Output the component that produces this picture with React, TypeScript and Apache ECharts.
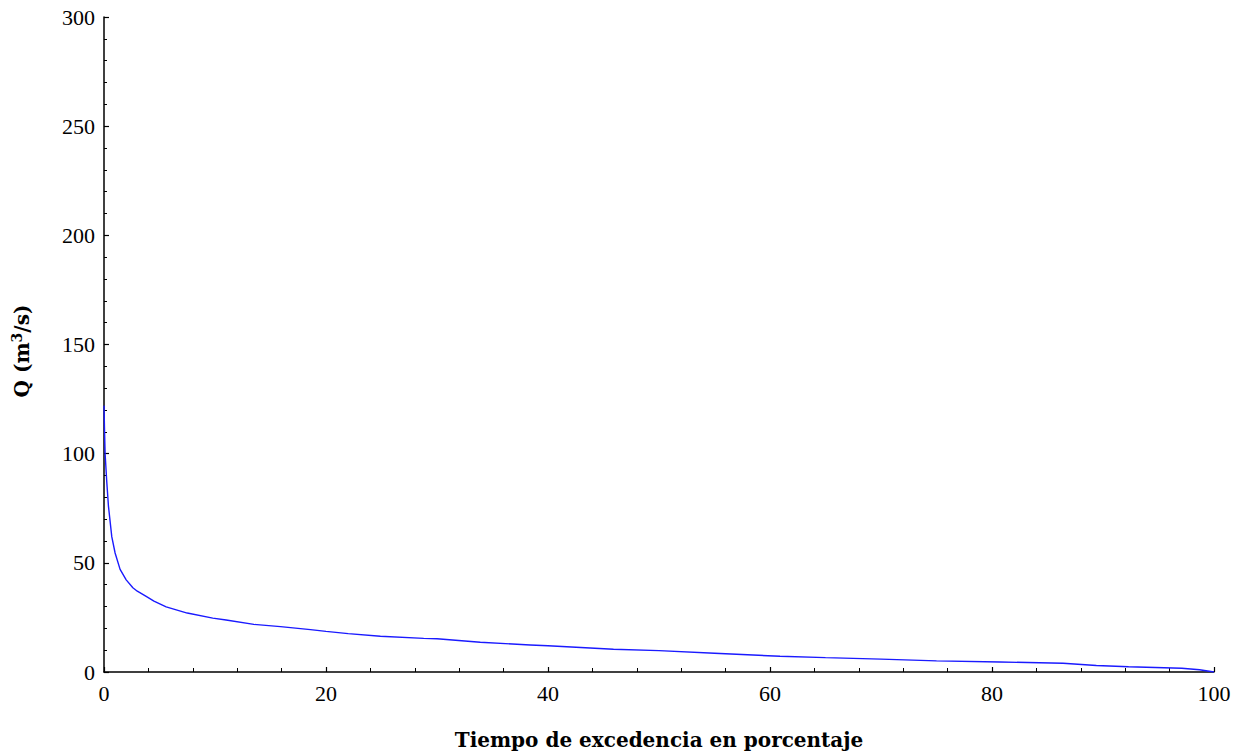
import React, { useEffect, useRef } from "react";
import * as echarts from "echarts";

const xValues: number[] = [0, 0.05, 0.1, 0.25, 0.4, 0.7, 1.0, 1.45, 2.0, 2.6, 3.0, 3.8, 4.5, 5.6, 7.5, 9.8, 11, 13.5, 15.9, 18.6, 20, 22, 24.9, 28.8, 30, 33.9, 38.4, 40, 45.9, 50, 55, 60.9, 65, 70, 75, 80.7, 86.4, 89.4, 92.3, 97.1, 98.7, 100];
const qValues: number[] = [122, 110, 100, 87, 76, 62, 54.5, 47, 42.2, 38.6, 37, 34.6, 32.5, 29.8, 27, 24.7, 23.8, 21.8, 20.8, 19.4, 18.6, 17.6, 16.4, 15.4, 15.2, 13.6, 12.4, 12, 10.4, 9.8, 8.6, 7.2, 6.6, 5.9, 5.1, 4.6, 4.0, 3.0, 2.4, 1.7, 1.0, 0];

const xAxisTitle = "Tiempo de excedencia en porcentaje";
const yAxisTitle = "Q (m{sup|3}/s)";

const FONT = "'Liberation Serif', 'Times New Roman', serif";
const TITLE_FONT = "'DejaVu Serif', serif";

export default function App() {
  const ref = useRef<HTMLDivElement>(null);
  useEffect(() => {
    if (!ref.current) return;
    const chart = echarts.init(ref.current, undefined, { renderer: "svg" });
    const data = xValues.map((x, i) => [x, qValues[i]]);
    chart.setOption({
      animation: false,
      backgroundColor: "#ffffff",
      grid: { left: 104, right: 34, top: 17, bottom: 84, containLabel: false, outerBoundsMode: "none" },
      xAxis: {
        type: "value",
        min: 0,
        max: 100,
        interval: 20,
        name: xAxisTitle,
        nameLocation: "middle",
        nameGap: 58,
        nameTextStyle: { fontFamily: TITLE_FONT, fontSize: 20, fontWeight: "bold", color: "#000" },
        axisLine: { show: true, lineStyle: { color: "#000", width: 1.5 } },
        axisTick: { show: true, inside: true, length: 5, lineStyle: { color: "#000", width: 1.2 } },
        minorTick: { show: true, splitNumber: 5, length: 4, lineStyle: { color: "#000", width: 1 } },
        axisLabel: { fontFamily: FONT, fontSize: 22, color: "#000", margin: 10 },
        splitLine: { show: false },
      },
      yAxis: {
        type: "value",
        min: 0,
        max: 300,
        interval: 50,
        name: yAxisTitle,
        nameLocation: "middle",
        nameGap: 70,
        nameTextStyle: {
          fontFamily: TITLE_FONT,
          fontSize: 20,
          fontWeight: "bold",
          color: "#000",
          padding: [0, 13, 0, 0],
          rich: {
            sup: { fontFamily: TITLE_FONT, fontSize: 14, fontWeight: "bold", color: "#000", verticalAlign: "top", padding: [0, 0, 10, 0] },
          },
        },
        axisLine: { show: true, lineStyle: { color: "#000", width: 1.5 } },
        axisTick: { show: true, inside: true, length: 5, lineStyle: { color: "#000", width: 1.2 } },
        minorTick: { show: true, splitNumber: 5, length: 3, lineStyle: { color: "#000", width: 1 } },
        axisLabel: { fontFamily: FONT, fontSize: 22, color: "#000", margin: 9 },
        splitLine: { show: false },
      },
      series: [
        {
          type: "line",
          data,
          showSymbol: false,
          symbol: "none",
          smooth: false,
          lineStyle: { color: "#1a1aff", width: 1.4 },
        },
      ],
    });
    return () => chart.dispose();
  }, []);
  return <div ref={ref} style={{ position: "absolute", left: 0, top: 0, width: 1248, height: 756 }} />;
}
